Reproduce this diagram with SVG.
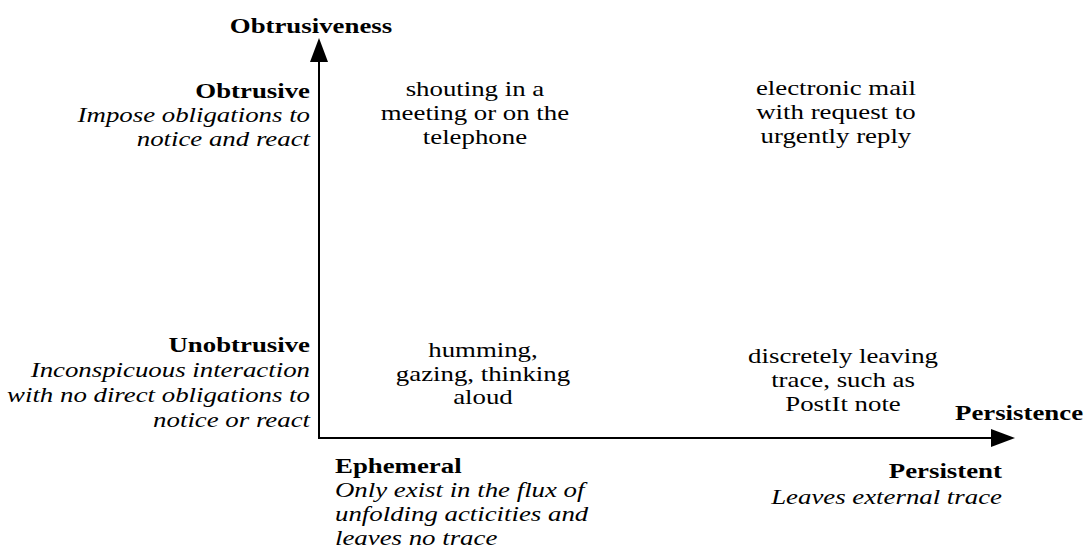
<svg xmlns="http://www.w3.org/2000/svg" width="1085" height="551" viewBox="0 0 1085 551">
<style>
text{font-family:"Liberation Serif","Times New Roman",serif;font-size:22px;fill:#000}
.b{font-weight:bold}
.i{font-style:italic}
.r{text-anchor:end}
.c{text-anchor:middle}
.axis{stroke:#000;stroke-width:2;fill:none}
</style>
<defs>
<marker id="arr" markerWidth="24" markerHeight="20" refX="0" refY="9" orient="auto" markerUnits="userSpaceOnUse">
<path d="M0,0 L24,9 L0,18 Z" fill="#000"/>
</marker>
</defs>
<rect width="1085" height="551" fill="#fff"/>
<g id="connectors">
<path class="axis" d="M319,438 L319,62" marker-end="url(#arr)"/>
<path class="axis" d="M318,438 L991,438" marker-end="url(#arr)"/>
</g>
<g id="labels" transform="scale(1.22,1)">
<g id="y-axis-label"><text class="b c" x="254.9" y="33">Obtrusiveness</text></g>
<g id="x-axis-label"><text class="b" x="782.8" y="420">Persistence</text></g>
<g id="obtrusive">
<text class="b r" x="254.1" y="98">Obtrusive</text>
<text class="i r" x="254.1" y="122">Impose obligations to</text>
<text class="i r" x="254.1" y="146">notice and react</text>
</g>
<g id="unobtrusive">
<text class="b r" x="254.1" y="352">Unobtrusive</text>
<text class="i r" x="254.1" y="377">Inconspicuous interaction</text>
<text class="i r" x="254.1" y="402">with no direct obligations to</text>
<text class="i r" x="254.1" y="427">notice or react</text>
</g>
<g id="ephemeral">
<text class="b" x="274.6" y="473">Ephemeral</text>
<text class="i" x="274.6" y="497">Only exist in the flux of</text>
<text class="i" x="274.6" y="521">unfolding acticities and</text>
<text class="i" x="274.6" y="545">leaves no trace</text>
</g>
<g id="persistent">
<text class="b r" x="821.3" y="478">Persistent</text>
<text class="i r" x="821.3" y="504">Leaves external trace</text>
</g>
<g id="shouting">
<text class="c" x="389.3" y="96">shouting in a</text>
<text class="c" x="389.3" y="120">meeting or on the</text>
<text class="c" x="389.3" y="144">telephone</text>
</g>
<g id="email">
<text class="c" x="685.2" y="95">electronic mail</text>
<text class="c" x="685.2" y="119">with request to</text>
<text class="c" x="685.2" y="143">urgently reply</text>
</g>
<g id="humming">
<text class="c" x="395.9" y="357">humming,</text>
<text class="c" x="395.9" y="381">gazing, thinking</text>
<text class="c" x="395.9" y="404">aloud</text>
</g>
<g id="postit">
<text class="c" x="691" y="363">discretely leaving</text>
<text class="c" x="691" y="387">trace, such as</text>
<text class="c" x="691" y="411">PostIt note</text>
</g>
</g>
</svg>
